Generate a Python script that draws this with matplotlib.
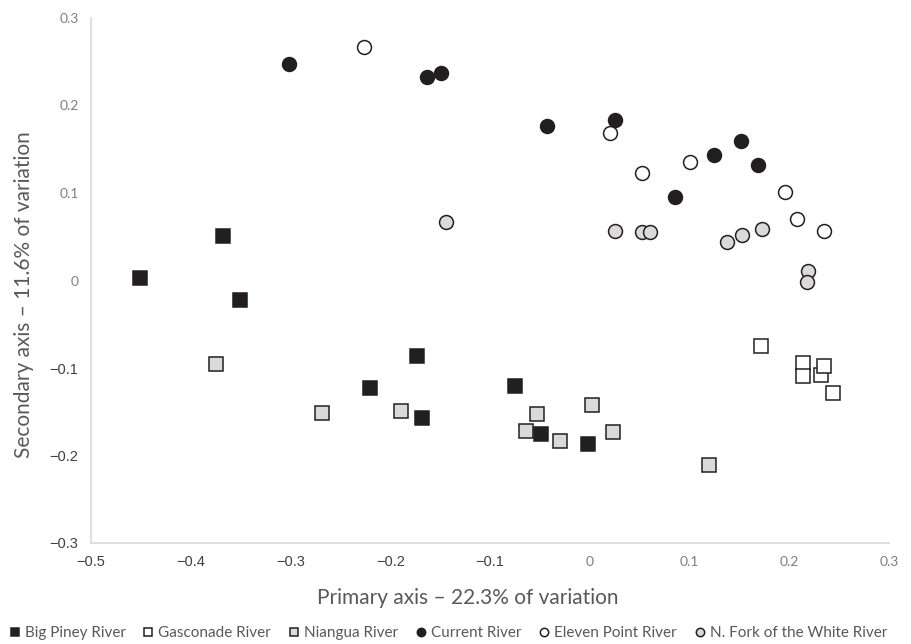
import matplotlib.pyplot as plt
import numpy as np

# PCA scores
big_piney_x = [-0.451, -0.368, -0.351, -0.173, -0.220, -0.168, -0.075, -0.049, -0.002]
big_piney_y = [0.003, 0.051, -0.022, -0.086, -0.123, -0.157, -0.121, -0.175, -0.187]

gasconade_x = [0.172, 0.214, 0.214, 0.232, 0.235, 0.244]
gasconade_y = [-0.075, -0.094, -0.109, -0.108, -0.098, -0.129]

niangua_x = [-0.375, -0.268, -0.189, -0.053, -0.064, -0.030, 0.002, 0.023, 0.120]
niangua_y = [-0.095, -0.151, -0.149, -0.152, -0.172, -0.183, -0.142, -0.173, -0.211]

current_x = [-0.302, -0.163, -0.149, -0.043, 0.025, 0.125, 0.152, 0.169, 0.085]
current_y = [0.248, 0.233, 0.237, 0.177, 0.184, 0.144, 0.160, 0.132, 0.095]

eleven_x = [-0.226, 0.020, 0.052, 0.101, 0.196, 0.208, 0.235]
eleven_y = [0.267, 0.169, 0.123, 0.136, 0.101, 0.070, 0.057]

nfork_x = [-0.144, 0.025, 0.052, 0.060, 0.138, 0.153, 0.173, 0.219, 0.218]
nfork_y = [0.067, 0.057, 0.055, 0.055, 0.044, 0.052, 0.059, 0.011, -0.002]

xticks = [-0.5, -0.4, -0.3, -0.2, -0.1, 0, 0.1, 0.2, 0.3]
yticks = [-0.3, -0.2, -0.1, 0, 0.1, 0.2, 0.3]

dark = "#231f20"
grey = "#dadada"

fig = plt.figure(figsize=(9.11, 6.44), dpi=100)
ax = fig.add_axes([91 / 911, 1 - 543 / 644, 798 / 911, 525 / 644])

series = [
    ("Big Piney River", big_piney_x, big_piney_y, "s", dark),
    ("Gasconade River", gasconade_x, gasconade_y, "s", "white"),
    ("Niangua River", niangua_x, niangua_y, "s", grey),
    ("Current River", current_x, current_y, "o", dark),
    ("Eleven Point River", eleven_x, eleven_y, "o", "white"),
    ("N. Fork of the White River", nfork_x, nfork_y, "o", grey),
]

for name, xs, ys, m, fc in series:
    ax.plot(xs, ys, linestyle="none", marker=m, markersize=10,
            markerfacecolor=fc, markeredgecolor=dark, markeredgewidth=1.1,
            label=name, zorder=3)

ax.set_xlim(-0.5, 0.3)
ax.set_ylim(-0.3, 0.3)

for s in ["top", "right"]:
    ax.spines[s].set_visible(False)
for s in ["left", "bottom"]:
    ax.spines[s].set_color("#d9d9d9")
    ax.spines[s].set_linewidth(1.2)

ax.tick_params(length=0)
ax.tick_params(axis="x", pad=9)
ax.tick_params(axis="y", pad=9)


def fmt(v):
    t = f"{round(v, 1):g}"
    return t.replace("-", "\u2212")


ax.set_xticks(xticks)
ax.set_xticklabels([fmt(v) for v in xticks])
ax.set_yticks(yticks)
ax.set_yticklabels([fmt(v) for v in yticks])

# negative labels look like Arial, the others like Calibri
for lab, v in list(zip(ax.get_xticklabels(), xticks)) + list(zip(ax.get_yticklabels(), yticks)):
    if v < 0:
        lab.set_fontfamily("Liberation Sans")
        lab.set_fontsize(10.5)
        lab.set_color("#404040")
    else:
        lab.set_fontfamily("Lato")
        lab.set_fontsize(10)
        lab.set_color("#7f7f7f")

ax.set_xlabel("Primary axis \u2013 22.3% of variation", fontfamily="Lato",
              fontsize=15, color="#595959")
ax.xaxis.set_label_coords((468 - 91) / 798, -(588 - 543) / 525)
ax.set_ylabel("Secondary axis \u2013 11.6% of variation", fontfamily="Lato",
              fontsize=15, color="#595959")
ax.yaxis.set_label_coords(-(91 - 34) / 798, (543 - 295) / 525)

handles, labels = ax.get_legend_handles_labels()
leg = fig.legend(handles, labels, loc="center", bbox_to_anchor=(0.492, 1 - 633 / 644),
                 ncol=6, frameon=False, markerscale=0.6, handlelength=0.7,
                 handletextpad=0.3, columnspacing=1.15,
                 prop={"family": "Lato", "size": 11})
for t in leg.get_texts():
    t.set_color("#595959")

fig.savefig("out.png", dpi=100)
